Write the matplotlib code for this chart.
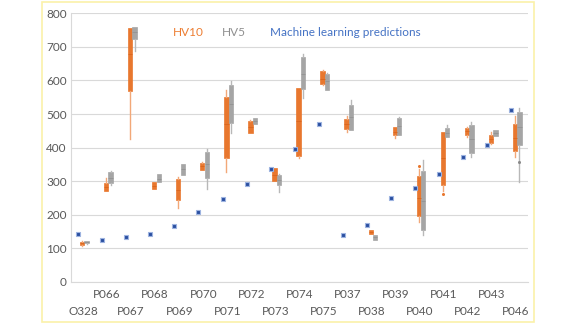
import matplotlib
matplotlib.use('Agg')
import matplotlib.pyplot as plt
from matplotlib.patches import Rectangle

plt.rcParams['font.family'] = ['Lato', 'DejaVu Sans']

categories = ["O328", "P066", "P067", "P068", "P069", "P070", "P071", "P072", "P073", "P074",
              "P075", "P037", "P038", "P039", "P040", "P041", "P042", "P043", "P046"]

# HV10 box statistics
hv10_min = [108, 270, 427, 276, 219, 333, 328, 444, 300, 368, 588, 447, 142, 430, 179, 270, 432, 411, 373]
hv10_q1  = [111, 272, 570, 277, 244, 334, 370, 445, 302, 376, 589, 455, 142, 437, 196, 288, 439, 413, 390]
hv10_med = [115, 283, 680, 287, 275, 345, 470, 462, 320, 480, 605, 470, 148, 448, 250, 370, 450, 425, 430]
hv10_q3  = [120, 295, 757, 298, 308, 355, 552, 480, 338, 578, 629, 484, 154, 460, 315, 447, 459, 439, 469]
hv10_max = [122, 310, 757, 298, 313, 356, 573, 481, 340, 578, 631, 494, 154, 462, 335, 447, 460, 447, 494]
hv10_out = [[], [], [], [], [], [], [], [], [], [], [], [], [], [], [346], [263], [], [], []]

# HV5 box statistics
hv5_min = [114, 288, 689, 298, 320, 276, 444, 469, 268, 547, 572, 454, 126, 439, 139, 432, 373, 434, 298]
hv5_q1  = [115, 295, 724, 298, 320, 311, 474, 469, 288, 574, 572, 454, 126, 439, 154, 432, 385, 434, 408]
hv5_med = [118, 310, 745, 308, 335, 350, 530, 478, 305, 620, 598, 490, 133, 465, 240, 445, 425, 443, 460]
hv5_q3  = [122, 328, 760, 321, 350, 388, 586, 487, 320, 669, 619, 527, 140, 489, 330, 459, 467, 452, 505]
hv5_max = [123, 330, 760, 322, 352, 395, 599, 489, 322, 679, 621, 542, 140, 491, 363, 467, 477, 454, 517]
hv5_out = [[], [], [], [], [], [], [], [], [], [], [], [], [], [], [], [], [], [], [356]]

# Machine learning predictions
ml_pred = [144, 126, 134, 144, 166, 209, 246, 291, 335, 396, 469, 141, 171, 251, 281, 323, 372, 409, 512]

yticks = [0, 100, 200, 300, 400, 500, 600, 700, 800]

ORANGE = '#E8772E'
ORANGE_W = '#F2A878'
GRAY = '#A5A5A5'
GRAY_W = '#B8B8B8'

fig = plt.figure(figsize=(5.8, 3.3), dpi=100)
ax = fig.add_axes([71 / 580, 1 - 282 / 330, (528 - 71) / 580, (282 - 13.3) / 330])

# yellow frame
fig.patches.append(Rectangle((42 / 580, 1 - 322 / 330), (534 - 42) / 580, (322 - 2) / 330,
                             transform=fig.transFigure, fill=False, edgecolor='#FBF1A9', lw=1.2))


def make_stats(mn, q1, md, q3, mx, out):
    return [dict(whislo=a, q1=b, med=c, q3=d, whishi=e, fliers=f)
            for a, b, c, d, e, f in zip(mn, q1, md, q3, mx, out)]


n = len(categories)
pos = list(range(n))
w = 0.18

ax.bxp(make_stats(hv10_min, hv10_q1, hv10_med, hv10_q3, hv10_max, hv10_out),
       positions=[p - 0.04 for p in pos], widths=w, patch_artist=True, showcaps=False,
       manage_ticks=False,
       boxprops=dict(facecolor=ORANGE, edgecolor=ORANGE, linewidth=0.5),
       whiskerprops=dict(color=ORANGE_W, linewidth=1.0),
       medianprops=dict(color='#D9651E', linewidth=0.6),
       flierprops=dict(marker='o', markersize=2.2, markerfacecolor=ORANGE, markeredgecolor='none'))

ax.bxp(make_stats(hv5_min, hv5_q1, hv5_med, hv5_q3, hv5_max, hv5_out),
       positions=[p + 0.145 for p in pos], widths=w, patch_artist=True, showcaps=False,
       manage_ticks=False,
       boxprops=dict(facecolor=GRAY, edgecolor=GRAY, linewidth=0.5),
       whiskerprops=dict(color=GRAY_W, linewidth=1.0),
       medianprops=dict(color='#939393', linewidth=0.6),
       flierprops=dict(marker='o', markersize=2.2, markerfacecolor='#8A8A8A', markeredgecolor='none'))

ax.plot([p - 0.2 for p in pos], ml_pred, linestyle='none', marker='s', markersize=3.2,
        markerfacecolor='#2A4FA0', markeredgecolor='#9DB3E0', markeredgewidth=0.8, zorder=5)

ax.set_xlim(-0.5, n - 0.5)
ax.set_ylim(0, 800)
ax.set_yticks(yticks)
ax.set_yticklabels([str(v) for v in yticks])
ax.grid(axis='y', color='#D9D9D9', linewidth=0.8)
ax.set_axisbelow(True)

for s in ['top', 'right']:
    ax.spines[s].set_visible(False)
for s in ['left', 'bottom']:
    ax.spines[s].set_color('#D9D9D9')
    ax.spines[s].set_linewidth(0.8)

ax.set_xticks(pos[0::2])
ax.set_xticklabels(categories[0::2])
ax.set_xticks(pos[1::2], minor=True)
ax.set_xticklabels(categories[1::2], minor=True)
ax.tick_params(axis='x', which='major', length=0, pad=17.5, labelsize=8.5, labelcolor='#595959')
ax.tick_params(axis='x', which='minor', length=0, pad=5, labelsize=8.5, labelcolor='#595959')
ax.tick_params(axis='y', length=0, pad=3, labelsize=8.5, labelcolor='#595959')

fig.text(173 / 580, 1 - 33 / 330, 'HV10', color='#ED7D31', fontsize=8.5, ha='left', va='center')
fig.text(222 / 580, 1 - 33 / 330, 'HV5', color='#8F8F8F', fontsize=8.5, ha='left', va='center')
fig.text(270 / 580, 1 - 33 / 330, 'Machine learning predictions', color='#4472C4', fontsize=8.5,
         ha='left', va='center')

fig.savefig('out.png', dpi=100)
